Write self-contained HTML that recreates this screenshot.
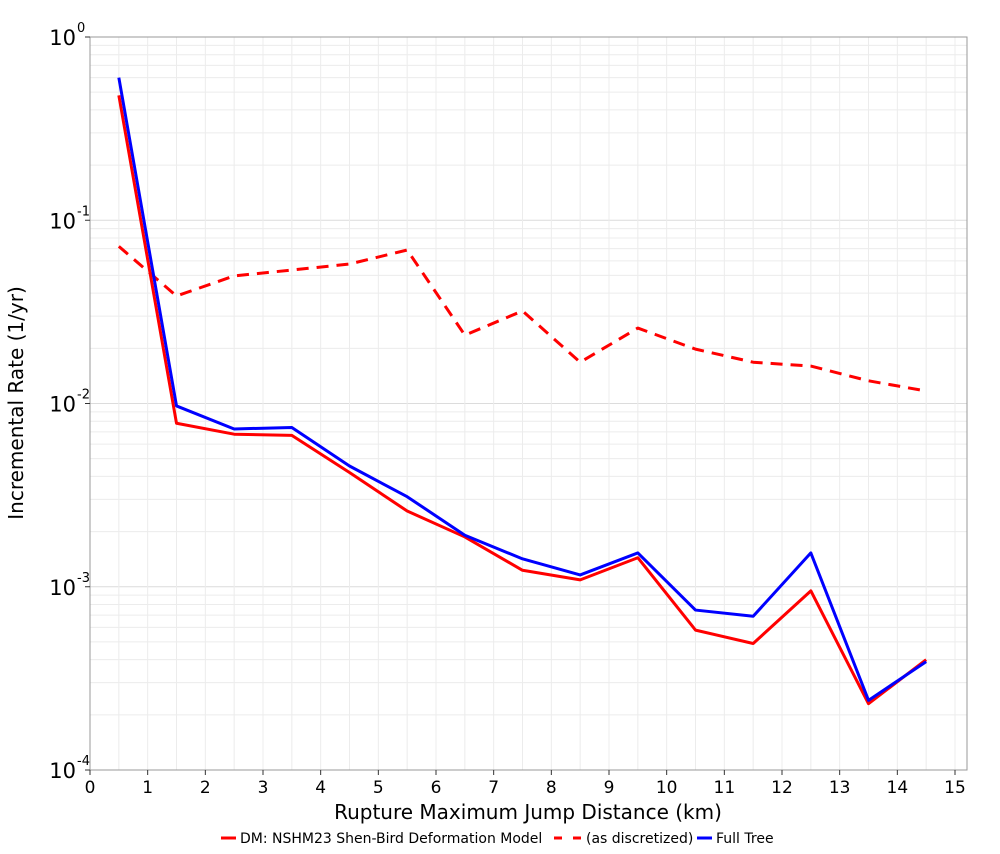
<!DOCTYPE html>
<html><head><meta charset="utf-8"><style>
body{margin:0;background:#fff;font-family:"DejaVu Sans","Liberation Sans",sans-serif;}
svg text{font-family:"DejaVu Sans","Liberation Sans",sans-serif;}
</style></head><body>
<svg id="chart" width="1000" height="850" xmlns="http://www.w3.org/2000/svg"></svg>
<script>
const xCats=[0.5,1.5,2.5,3.5,4.5,5.5,6.5,7.5,8.5,9.5,10.5,11.5,12.5,13.5,14.5];
const redSolid=[0.48,0.0078,0.0068,0.0067,0.0042,0.00259,0.00187,0.00123,0.00109,0.00144,0.00058,0.00049,0.00095,0.00023,0.0004];
const redDashed=[0.072,0.0386,0.0497,0.0535,0.0577,0.0688,0.0236,0.032,0.0168,0.0258,0.0198,0.0168,0.016,0.0133,0.0117];
const blueTree=[0.6,0.0097,0.00726,0.0074,0.00456,0.0031,0.00191,0.00142,0.00116,0.00153,0.000746,0.00069,0.00153,0.00024,0.00039];
const xTicks=[0,1,2,3,4,5,6,7,8,9,10,11,12,13,14,15];
const yExps=[0,-1,-2,-3,-4];
const NS="http://www.w3.org/2000/svg";
const svg=document.getElementById('chart');
const L=90,R=967,T=37,B=770;
const xs=v=>90+v*(955-90)/15;
const ys=v=>T+(-Math.log10(v))*(B-T)/4;
function mk(tag,attrs,parent){const e=document.createElementNS(NS,tag);for(const k in attrs)e.setAttribute(k,attrs[k]);(parent||svg).appendChild(e);return e;}
const grid=mk('g',{});


for(let e=0;e>-4;e--){for(let m=1;m<10;m++){const v=m*Math.pow(10,e-1);const y=ys(v);mk('line',{x1:L,x2:R,y1:y,y2:y,stroke:m==1?'#dcdcdc':'#ececec','stroke-width':1},grid);}}
for(let x=0.5;x<15.2;x+=0.5){mk('line',{x1:xs(x),x2:xs(x),y1:T,y2:B,stroke:'#ececec','stroke-width':1},grid);}
mk('rect',{x:L,y:T,width:R-L,height:B-T,fill:'none',stroke:'#999','stroke-width':1});
xTicks.forEach(t=>{const x=xs(t);mk('line',{x1:x,x2:x,y1:B,y2:B+5,stroke:'#333'});
const tx=mk('text',{x:x,y:B+23,'text-anchor':'middle','font-size':17,fill:'#000'});tx.textContent=t;

});
yExps.forEach(e=>{const y=ys(Math.pow(10,e));mk('line',{x1:L-5,x2:L,y1:y,y2:y,stroke:'#333'});
const tx=mk('text',{x:L-14,y:y+8,'text-anchor':'end','font-size':21,fill:'#000'});tx.textContent='10';


const sp=mk('text',{x:L-13,y:y-5,'font-size':13,fill:'#000'});sp.textContent=String(e);});
const xt=mk('text',{x:528,y:819,'text-anchor':'middle','font-size':20});xt.textContent='Rupture Maximum Jump Distance (km)';


const yt=mk('text',{x:23,y:403,'text-anchor':'middle','font-size':20,transform:'rotate(-90 23 403)'});yt.textContent='Incremental Rate (1/yr)';


function line(arr,color,dash,name){const p=mk('polyline',{points:arr.map((v,i)=>xs(xCats[i])+','+ys(v)).join(' '),fill:'none',stroke:color,'stroke-width':3,'stroke-dasharray':dash||'none','stroke-linejoin':'round'});

}
line(redDashed,'#f00','12,8','series-as-discretized');
line(redSolid,'#f00',null,'series-shen-bird');
line(blueTree,'#00f',null,'series-full-tree');
const lg=mk('g',{});


function le(x,tx,color,dash,label){mk('line',{x1:x,x2:x+(dash?27:15),y1:838,y2:838,stroke:color,'stroke-width':3,'stroke-dasharray':dash||'none'},lg);const t=mk('text',{x:tx,y:843,'font-size':14},lg);t.textContent=label;}
le(221,240,'#f00',null,'DM: NSHM23 Shen-Bird Deformation Model');
le(554,586,'#f00','8,11','(as discretized)');
le(697,716,'#00f',null,'Full Tree');
</script>
</body></html>
